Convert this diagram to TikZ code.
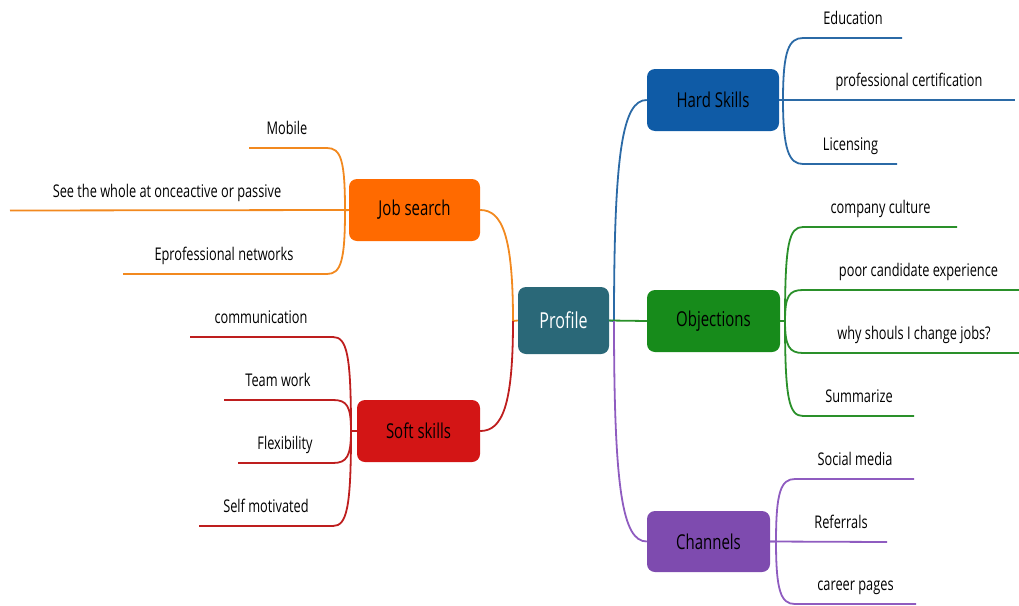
\documentclass[tikz,border=0pt]{standalone}
\usepackage{fontspec}
\setmainfont{Open Sans}[FakeStretch=0.73]
\begin{document}
\begin{tikzpicture}[x=1pt,y=-1pt,
  topic/.style={rounded corners=8pt, inner sep=0pt, text=black, font=\fontsize{20.5}{24}\selectfont},
  leaf/.style={anchor=base, inner sep=0pt, text=black, font=\fontsize{17.5}{20}\selectfont},
  conn/.style={line width=1.8pt}]
\definecolor{cprof}{HTML}{2A6878}
\definecolor{chard}{HTML}{0F5BA6}
\definecolor{cobj}{HTML}{178B1B}
\definecolor{cchan}{HTML}{7E4BAF}
\definecolor{cjob}{HTML}{FF6A00}
\definecolor{csoft}{HTML}{D31515}
\definecolor{lhard}{HTML}{2B6AA6}
\definecolor{lobj}{HTML}{2A902A}
\definecolor{lchan}{HTML}{8F5CC0}
\definecolor{ljob}{HTML}{F2891F}
\definecolor{lsoft}{HTML}{BE1E1E}
\useasboundingbox (0,0) rectangle (1019,605);

% main nodes
\node[topic, fill=cprof, text=white, minimum width=91pt, minimum height=67pt, font=\fontsize{22}{26}\selectfont] (prof) at (563.5,320.5) {Profile};
\node[topic, fill=chard, minimum width=132pt, minimum height=62pt] (hard) at (713,100) {Hard Skills};
\node[topic, fill=cobj, minimum width=133pt, minimum height=62pt] (obj) at (713.5,321) {Objections};
\node[topic, fill=cchan, minimum width=123pt, minimum height=61pt] (chan) at (708.5,541.5) {Channels};
\node[topic, fill=cjob, minimum width=131pt, minimum height=62pt] (job) at (414.5,210) {Job search};
\node[topic, fill=csoft, minimum width=123pt, minimum height=62pt] (soft) at (418.5,431) {Soft skills};

% branch coordinates
\coordinate (rb) at (614,321);
\coordinate (lb) at (513,321);
\coordinate (hb) at (783,100);
\coordinate (ob) at (785,321);
\coordinate (cb) at (776,541.5);
\coordinate (jb) at (345,210.5);
\coordinate (sb) at (351,431);

% root connectors
\draw[conn, lhard] (prof.east) -- (rb) .. controls +(0,-170) and +(-24,0) .. (hard.west);
\draw[conn, lobj] (prof.east) -- (obj.west);
\draw[conn, lchan] (rb) .. controls +(0,170) and +(-24,0) .. (chan.west);
\draw[conn, ljob] (prof.west) -- (lb) .. controls +(0,-85) and +(22,0) .. (job.east);
\draw[conn, lsoft] (lb) .. controls +(0,85) and +(22,0) .. (soft.east);

% Hard skills leaves
\coordinate (e1a) at (803,38);  \coordinate (e1b) at (902,38);
\coordinate (e2b) at (1015,100);
\coordinate (e3a) at (803,164); \coordinate (e3b) at (897,164);
\draw[conn, lhard] (hard.east) -- (hb) .. controls +(0,-50) and +(-14,0) .. (e1a) -- (e1b);
\draw[conn, lhard] (hard.east) -- (e2b);
\draw[conn, lhard] (hb) .. controls +(0,50) and +(-14,0) .. (e3a) -- (e3b);
\node[leaf] (edu) at (853,24) {Education};
\node[leaf] (cert) at (909,86) {professional certification};
\node[leaf] (lic) at (850.5,150) {Licensing};

% Objections leaves
\coordinate (o1a) at (803,227); \coordinate (o1b) at (957,227);
\coordinate (o2a) at (803,290); \coordinate (o2b) at (1019,290);
\coordinate (o3a) at (803,353); \coordinate (o3b) at (1019,353);
\coordinate (o4a) at (803,416); \coordinate (o4b) at (914,416);
\draw[conn, lobj] (obj.east) -- (ob) .. controls +(0,-78) and +(-14,0) .. (o1a) -- (o1b);
\draw[conn, lobj] (ob) .. controls +(0,-25) and +(-14,0) .. (o2a) -- (o2b);
\draw[conn, lobj] (ob) .. controls +(0,25) and +(-14,0) .. (o3a) -- (o3b);
\draw[conn, lobj] (ob) .. controls +(0,78) and +(-14,0) .. (o4a) -- (o4b);
\node[leaf] (cult) at (880.5,213) {company culture};
\node[leaf] (poor) at (918.5,276) {poor candidate experience};
\node[leaf] (why) at (914,339) {why shouls I change jobs?};
\node[leaf] (summ) at (859,402) {Summarize};

% Channels leaves
\coordinate (c1a) at (795,479); \coordinate (c1b) at (914,479);
\coordinate (c2b) at (887,542);
\coordinate (c3a) at (795,604); \coordinate (c3b) at (916,604);
\draw[conn, lchan] (chan.east) -- (cb) .. controls +(0,-50) and +(-14,0) .. (c1a) -- (c1b);
\draw[conn, lchan] (chan.east) -- (c2b);
\draw[conn, lchan] (cb) .. controls +(0,50) and +(-14,0) .. (c3a) -- (c3b);
\node[leaf] (soc) at (855,465) {Social media};
\node[leaf] (ref) at (841,528) {Referrals};
\node[leaf] (car) at (855.5,590) {career pages};

% Job search leaves
\coordinate (j1a) at (327,148); \coordinate (j1b) at (249,148);
\coordinate (j2b) at (10,210.5);
\coordinate (j3a) at (327,274); \coordinate (j3b) at (123,274);
\draw[conn, ljob] (job.west) -- (jb) .. controls +(0,-50) and +(14,0) .. (j1a) -- (j1b);
\draw[conn, ljob] (job.west) -- (j2b);
\draw[conn, ljob] (jb) .. controls +(0,50) and +(14,0) .. (j3a) -- (j3b);
\node[leaf] (mob) at (287,134) {Mobile};
\node[leaf] (see) at (167,197) {See the whole at onceactive or passive};
\node[leaf] (epro) at (224,260) {Eprofessional networks};

% Soft skills leaves
\coordinate (s1a) at (333,337); \coordinate (s1b) at (190,337);
\coordinate (s2a) at (333,400); \coordinate (s2b) at (224,400);
\coordinate (s3a) at (333,463); \coordinate (s3b) at (238,463);
\coordinate (s4a) at (333,526); \coordinate (s4b) at (199,526);
\draw[conn, lsoft] (soft.west) -- (sb) .. controls +(0,-76) and +(14,0) .. (s1a) -- (s1b);
\draw[conn, lsoft] (sb) .. controls +(0,-25) and +(14,0) .. (s2a) -- (s2b);
\draw[conn, lsoft] (sb) .. controls +(0,25) and +(14,0) .. (s3a) -- (s3b);
\draw[conn, lsoft] (sb) .. controls +(0,76) and +(14,0) .. (s4a) -- (s4b);
\node[leaf] (comm) at (261,323) {communication};
\node[leaf] (team) at (278,386) {Team work};
\node[leaf] (flex) at (285,449) {Flexibility};
\node[leaf] (self) at (266,512) {Self motivated};
\end{tikzpicture}
\end{document}
